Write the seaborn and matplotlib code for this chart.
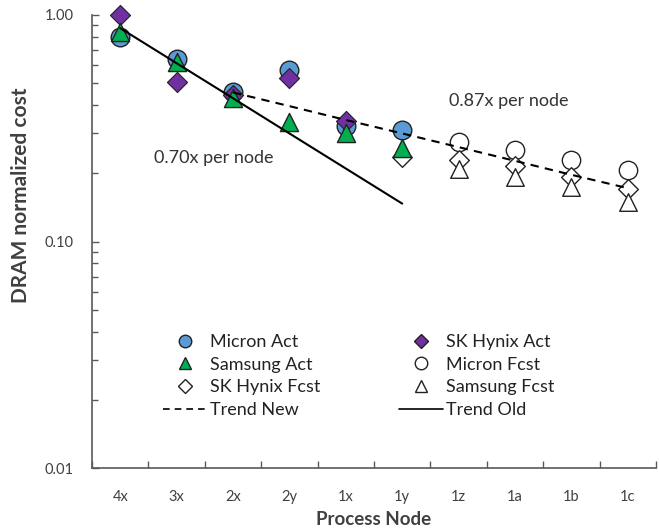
import numpy as np
import pandas as pd
import matplotlib
matplotlib.use("Agg")
import matplotlib.pyplot as plt
import seaborn as sns
from matplotlib.lines import Line2D
from matplotlib.ticker import LogLocator, FixedLocator, NullFormatter

sns.set_theme(style="white")
plt.rcParams['font.family'] = ['Lato', 'DejaVu Sans']

nodes = ["4x", "3x", "2x", "2y", "1x", "1y", "1z", "1a", "1b", "1c"]

micron_act_nodes = ["4x", "3x", "2x", "2y", "1x", "1y"]
micron_act = [0.80, 0.64, 0.455, 0.57, 0.325, 0.31]
samsung_act_nodes = ["4x", "3x", "2x", "2y", "1x", "1y"]
samsung_act = [0.84, 0.62, 0.43, 0.336, 0.30, 0.26]
hynix_act_nodes = ["4x", "3x", "2x", "2y", "1x"]
hynix_act = [1.00, 0.505, 0.445, 0.525, 0.34]

micron_fcst_nodes = ["1z", "1a", "1b", "1c"]
micron_fcst = [0.274, 0.253, 0.228, 0.206]
samsung_fcst_nodes = ["1z", "1a", "1b", "1c"]
samsung_fcst = [0.21, 0.192, 0.174, 0.149]
hynix_fcst_nodes = ["1y", "1z", "1a", "1b", "1c"]
hynix_fcst = [0.235, 0.230, 0.215, 0.192, 0.170]

trend_old_nodes = ["4x", "3x", "2x", "2y", "1x", "1y"]
trend_old = [0.875, 0.6125, 0.429, 0.300, 0.210, 0.147]
trend_new_nodes = ["2x", "2y", "1x", "1y", "1z", "1a", "1b", "1c"]
trend_new = [0.455, 0.396, 0.344, 0.300, 0.261, 0.227, 0.197, 0.172]

pos = {n: i for i, n in enumerate(nodes)}

def frame(nn, vals):
    return pd.DataFrame({"x": [pos[n] for n in nn], "y": vals})

fig = plt.figure(figsize=(6.59, 5.29), dpi=100)
ax = fig.add_axes([92/659, 1 - 468/529, (656-92)/659, (468-15)/529])

edge = "#222222"
blue = "#5b9bd5"
green = "#00b050"
purple = "#7030a0"

def scat(nn, vals, marker, s, fc, z, lw=1.0):
    sns.scatterplot(data=frame(nn, vals), x="x", y="y", ax=ax, marker=marker, s=s,
                    color=fc, edgecolor=edge, linewidth=lw, zorder=z, clip_on=False)

scat(micron_fcst_nodes, micron_fcst, "o", 175, "white", 3)
scat(hynix_fcst_nodes, hynix_fcst, "D", 100, "white", 3.1)
scat(samsung_fcst_nodes, samsung_fcst, "^", 160, "white", 3.2)
scat(micron_act_nodes, micron_act, "o", 180, blue, 4)
scat(hynix_act_nodes, hynix_act, "D", 105, purple, 4.1, 0.8)
scat(samsung_act_nodes, samsung_act, "^", 170, green, 4.2)

sns.lineplot(data=frame(trend_old_nodes, trend_old), x="x", y="y", ax=ax,
             color="black", linewidth=1.5, zorder=5)
sns.lineplot(data=frame(trend_new_nodes, trend_new), x="x", y="y", ax=ax,
             color="black", linewidth=1.5, linestyle=(0, (4, 3)), zorder=5)

ax.set_yscale("log")
ax.set_ylim(0.01, 1.0)
ax.set_xlim(-0.5, len(nodes) - 0.5)

axis_col = "#595959"
text_col = "#404040"
ax.set_xticks(range(len(nodes)))
ax.set_xticklabels(nodes)
ax.xaxis.set_minor_locator(FixedLocator(np.arange(-0.5, len(nodes), 1.0)))
ax.tick_params(axis="x", which="major", length=0, pad=16, labelsize=10.5, labelcolor=text_col)
ax.tick_params(axis="x", which="minor", direction="in", length=5, width=1, color=axis_col, bottom=True)

ax.yaxis.set_major_locator(FixedLocator([0.01, 0.1, 1.0]))
ax.set_yticklabels(["0.01", "0.10", "1.00"])
ax.yaxis.set_minor_locator(LogLocator(base=10, subs=np.arange(2, 10)))
ax.yaxis.set_minor_formatter(NullFormatter())
ax.tick_params(axis="y", which="major", direction="in", length=5, width=1, color=axis_col,
               left=True, labelsize=10.5, labelcolor=text_col, pad=13)
ax.tick_params(axis="y", which="minor", direction="in", length=4, width=1, color=axis_col, left=True)

for side in ["top", "right"]:
    ax.spines[side].set_visible(False)
for side in ["left", "bottom"]:
    ax.spines[side].set_color(axis_col)
    ax.spines[side].set_linewidth(1.2)

ax.set_xlabel("Process Node", fontsize=13.5, fontweight="bold", color=text_col, labelpad=5)
ax.set_ylabel("DRAM normalized cost", fontsize=15, fontweight="bold", color=text_col)
ax.yaxis.set_label_coords(-0.108, 0.603)

ax.text(1.66, 0.233, "0.70x per node", fontsize=13, color="#333333", ha="center", va="center")
ax.text(6.89, 0.416, "0.87x per node", fontsize=13, color="#333333", ha="center", va="center")

handles = [
    Line2D([], [], marker="o", linestyle="none", markersize=9, markerfacecolor=blue, markeredgecolor=edge),
    Line2D([], [], marker="^", linestyle="none", markersize=9, markerfacecolor=green, markeredgecolor=edge),
    Line2D([], [], marker="D", linestyle="none", markersize=7, markerfacecolor="white", markeredgecolor=edge),
    Line2D([], [], color="black", linewidth=1.2, linestyle=(0, (4, 3))),
    Line2D([], [], marker="D", linestyle="none", markersize=7, markerfacecolor=purple, markeredgecolor=edge),
    Line2D([], [], marker="o", linestyle="none", markersize=9, markerfacecolor="white", markeredgecolor=edge),
    Line2D([], [], marker="^", linestyle="none", markersize=9, markerfacecolor="white", markeredgecolor=edge),
    Line2D([], [], color="black", linewidth=1.2),
]
labels = ["Micron Act", "Samsung Act", "SK Hynix Fcst", "Trend New",
          "SK Hynix Act", "Micron Fcst", "Samsung Fcst", "Trend Old"]
leg = ax.legend(handles, labels, ncol=2, loc="center", bbox_to_anchor=(0.4725, 0.203),
                frameon=False, fontsize=13, handlelength=2.44, handletextpad=0.17,
                columnspacing=4.37, labelspacing=0.37)
for t in leg.get_texts():
    t.set_color("#222222")

fig.savefig("out.png", dpi=100)
